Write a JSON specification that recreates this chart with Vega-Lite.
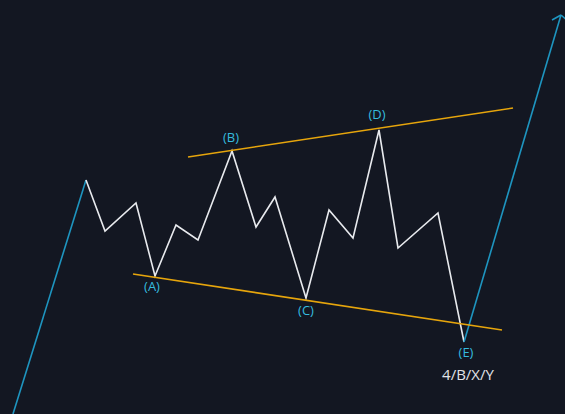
{
  "$schema": "https://vega.github.io/schema/vega-lite/v6.json",
  "width": 565,
  "height": 414,
  "autosize": {"type": "fit", "contains": "padding"},
  "padding": 0,
  "background": "#131722",
  "view": {"stroke": null},
  "datasets": {
    "lines": [
      {"line": "blue1", "o": 0, "x": 13, "y": 414},
      {"line": "blue1", "o": 1, "x": 86, "y": 180},
      {"line": "wave", "o": 0, "x": 86, "y": 180},
      {"line": "wave", "o": 1, "x": 105, "y": 231},
      {"line": "wave", "o": 2, "x": 136, "y": 203},
      {"line": "wave", "o": 3, "x": 155, "y": 276},
      {"line": "wave", "o": 4, "x": 176, "y": 225},
      {"line": "wave", "o": 5, "x": 198, "y": 240},
      {"line": "wave", "o": 6, "x": 232, "y": 151},
      {"line": "wave", "o": 7, "x": 256, "y": 227},
      {"line": "wave", "o": 8, "x": 275, "y": 197},
      {"line": "wave", "o": 9, "x": 306, "y": 298},
      {"line": "wave", "o": 10, "x": 329, "y": 210},
      {"line": "wave", "o": 11, "x": 353, "y": 238},
      {"line": "wave", "o": 12, "x": 379, "y": 130},
      {"line": "wave", "o": 13, "x": 398, "y": 248},
      {"line": "wave", "o": 14, "x": 438, "y": 213},
      {"line": "wave", "o": 15, "x": 464, "y": 342},
      {"line": "blue2", "o": 0, "x": 464, "y": 342},
      {"line": "blue2", "o": 1, "x": 561, "y": 15},
      {"line": "arrowL", "o": 0, "x": 552, "y": 20},
      {"line": "arrowL", "o": 1, "x": 561, "y": 15},
      {"line": "arrowR", "o": 0, "x": 561, "y": 15},
      {"line": "arrowR", "o": 1, "x": 569, "y": 22},
      {"line": "upper", "o": 0, "x": 188, "y": 157},
      {"line": "upper", "o": 1, "x": 513, "y": 108},
      {"line": "lower", "o": 0, "x": 133, "y": 274},
      {"line": "lower", "o": 1, "x": 502, "y": 330}
    ],
    "labels": [
      {"text": "(A)", "kind": "wave", "x": 152, "y": 287},
      {"text": "(B)", "kind": "wave", "x": 231, "y": 138},
      {"text": "(C)", "kind": "wave", "x": 306, "y": 311},
      {"text": "(D)", "kind": "wave", "x": 377, "y": 115},
      {"text": "(E)", "kind": "wave", "x": 466, "y": 353},
      {"text": "4/B/X/Y", "kind": "degree", "x": 468, "y": 375}
    ]
  },
  "layer": [
    {
      "data": {"name": "lines"},
      "mark": {"type": "line", "strokeWidth": 1.6, "clip": true},
      "encoding": {
        "x": {"field": "x", "type": "quantitative", "scale": {"domain": [0, 565], "nice": false, "zero": false}, "axis": null},
        "y": {"field": "y", "type": "quantitative", "scale": {"domain": [0, 414], "nice": false, "zero": false, "reverse": true}, "axis": null},
        "detail": {"field": "line"},
        "order": {"field": "o"},
        "color": {
          "field": "line",
          "type": "nominal",
          "scale": {
            "domain": ["blue1", "wave", "blue2", "arrowL", "arrowR", "upper", "lower"],
            "range": ["#1e95c0", "#e8eaee", "#1e95c0", "#1e95c0", "#1e95c0", "#e6a50c", "#e6a50c"]
          },
          "legend": null
        }
      }
    },
    {
      "data": {"name": "labels"},
      "mark": {"type": "text", "font": "Open Sans", "align": "center", "baseline": "middle"},
      "encoding": {
        "x": {"field": "x", "type": "quantitative", "scale": {"domain": [0, 565], "nice": false, "zero": false}, "axis": null},
        "y": {"field": "y", "type": "quantitative", "scale": {"domain": [0, 414], "nice": false, "zero": false, "reverse": true}, "axis": null},
        "text": {"field": "text"},
        "size": {
          "field": "kind", "type": "nominal",
          "scale": {"domain": ["wave", "degree"], "range": [13, 15]},
          "legend": null
        },
        "color": {
          "field": "kind", "type": "nominal",
          "scale": {"domain": ["wave", "degree"], "range": ["#35bbdf", "#e0e3e8"]},
          "legend": null
        }
      }
    }
  ],
  "resolve": {"scale": {"color": "independent"}}
}
